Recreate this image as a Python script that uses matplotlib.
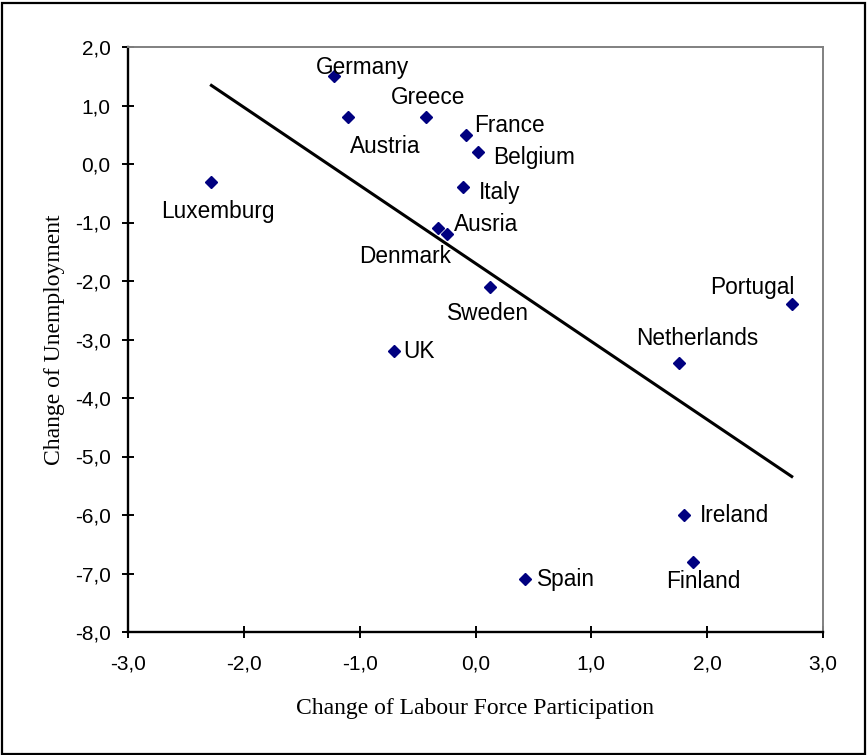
import numpy as np
import matplotlib
matplotlib.use("Agg")
import matplotlib.pyplot as plt
from matplotlib.ticker import FuncFormatter, MultipleLocator
from matplotlib.patches import Rectangle

# data
countries = ["Germany", "Austria", "Greece", "France", "Belgium", "Italy",
             "Luxemburg", "Denmark", "Ausria", "Sweden", "UK", "Portugal",
             "Netherlands", "Ireland", "Finland", "Spain"]
labour_change = [-1.22, -1.10, -0.43, -0.08, 0.02, -0.105,
                 -2.28, -0.32, -0.25, 0.125, -0.70, 2.73,
                 1.76, 1.80, 1.88, 0.43]
unemp_change = [1.5, 0.8, 0.8, 0.5, 0.2, -0.4,
                -0.3, -1.1, -1.2, -2.1, -3.2, -2.4,
                -3.4, -6.0, -6.8, -7.1]

# label offsets in pixels (dx, dy) from each point
label_offsets = {
    "Germany": (28, 9), "Greece": (2, 20), "Austria": (37, -29),
    "France": (43, 9), "Belgium": (56, -5), "Italy": (36, -5),
    "Luxemburg": (6, -30), "Ausria": (40, 10), "Denmark": (-33, -28),
    "Sweden": (-2, -27), "UK": (25, 0), "Portugal": (-39, 17),
    "Netherlands": (18, 24), "Ireland": (50, 0), "Spain": (41, 0),
    "Finland": (10, -20),
}

sans = "Liberation Sans"
serif = "Liberation Serif"

fig = plt.figure(figsize=(8.67, 7.55), dpi=100)
ax = fig.add_axes([128 / 867, 1 - 632 / 755, 695 / 867, 585 / 755])

x = np.array(labour_change)
y = np.array(unemp_change)
ax.plot(x, y, linestyle="none", marker="D", markersize=6.3,
        color="#000080", zorder=3)

# linear trend line over the data range
k, b = np.polyfit(x, y, 1)
xs = np.array([x.min(), x.max()])
ax.plot(xs, k * xs + b, color="black", linewidth=2.2, zorder=2)

for name, xi, yi in zip(countries, labour_change, unemp_change):
    dx, dy = label_offsets[name]
    ax.annotate(name, (xi, yi), xytext=(dx, dy), textcoords="offset pixels",
                ha="center", va="center", fontsize=16.3, family=sans)

ax.set_xlim(-3, 3)
ax.set_ylim(-8, 2)
ax.xaxis.set_major_locator(MultipleLocator(1))
ax.yaxis.set_major_locator(MultipleLocator(1))
fmt = FuncFormatter(lambda v, p: f"{v:.1f}".replace(".", ","))
ax.xaxis.set_major_formatter(fmt)
ax.yaxis.set_major_formatter(fmt)
ax.tick_params(direction="inout", length=9, width=1.4, labelsize=15)
ax.tick_params(axis="x", pad=12)
ax.tick_params(axis="y", pad=8)
for lab in ax.get_xticklabels() + ax.get_yticklabels():
    lab.set_family(sans)

for side in ["left", "bottom"]:
    ax.spines[side].set_color("black")
    ax.spines[side].set_linewidth(1.7)
for side in ["top", "right"]:
    ax.spines[side].set_color("#808080")
    ax.spines[side].set_linewidth(1.4)

ax.set_xlabel("Change of Labour Force Participation", family=serif,
              fontsize=17, labelpad=17)
ax.set_ylabel("Change of Unemployment", family=serif, fontsize=17,
              labelpad=7)

# outer border of the chart area
fig.patches.append(Rectangle((1.5 / 867, 1.5 / 755), 863 / 867, 751 / 755,
                             transform=fig.transFigure, fill=False,
                             edgecolor="black", linewidth=1.6))

fig.savefig("out.png", dpi=100)
